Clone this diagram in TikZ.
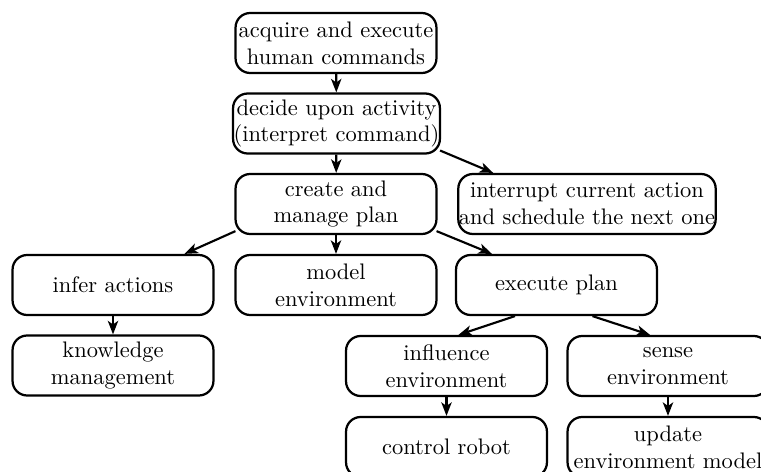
\documentclass[tikz,border=0pt]{standalone}
\usetikzlibrary{arrows.meta,calc}
\begin{document}
\begin{tikzpicture}[x=0.445pt,y=-0.445pt,
  box/.style={draw, line width=1pt, rounded corners=6.5pt, align=center,
    minimum width=89.4pt, minimum height=26.7pt, inner xsep=0.3pt, inner ysep=2pt},
  conn/.style={line width=0.95pt, -{Stealth[length=6pt,width=4.6pt,inset=1.6pt]}}]
\useasboundingbox (0,0) rectangle (761,472);
\node[box] (A) at (336,43) {acquire and execute\\human commands};
\node[box] (B) at (336.5,123.5) {decide upon activity\\(interpret command)};
\node[box] (C) at (336,204) {create and\\manage plan};
\node[box] (D) at (587,204) {interrupt current action\\and schedule the next one};
\node[box] (E) at (113,285) {infer actions};
\node[box] (F) at (336,285) {model\\environment};
\node[box] (G) at (556.5,285) {execute plan};
\node[box] (H) at (113,365.5) {knowledge\\management};
\node[box] (I) at (446.5,366) {influence\\environment};
\node[box] (J) at (668,366) {sense\\environment};
\node[box] (K) at (446.5,447) {control robot};
\node[box] (L) at (668,447) {update\\environment model};
\draw[conn] (A) -- (B);
\draw[conn] (B) -- (C);
\draw[conn] ($(B.east)+(-1,27)$) -- ($(D.north west)+(36,0)$);
\draw[conn] ($(C.south west)+(1,-4)$) -- ($(E.north east)+(-30,0)$);
\draw[conn] (C) -- (F);
\draw[conn] ($(C.south east)+(-1,-4)$) -- ($(G.north west)+(37,0)$);
\draw[conn] (E) -- (H);
\draw[conn] ($(G.south)+(-41.5,0)$) -- ($(I.north)+(12,0)$);
\draw[conn] ($(G.south)+(36,0)$) -- ($(J.north)+(-18,0)$);
\draw[conn] (I) -- (K);
\draw[conn] (J) -- (L);
\end{tikzpicture}
\end{document}
